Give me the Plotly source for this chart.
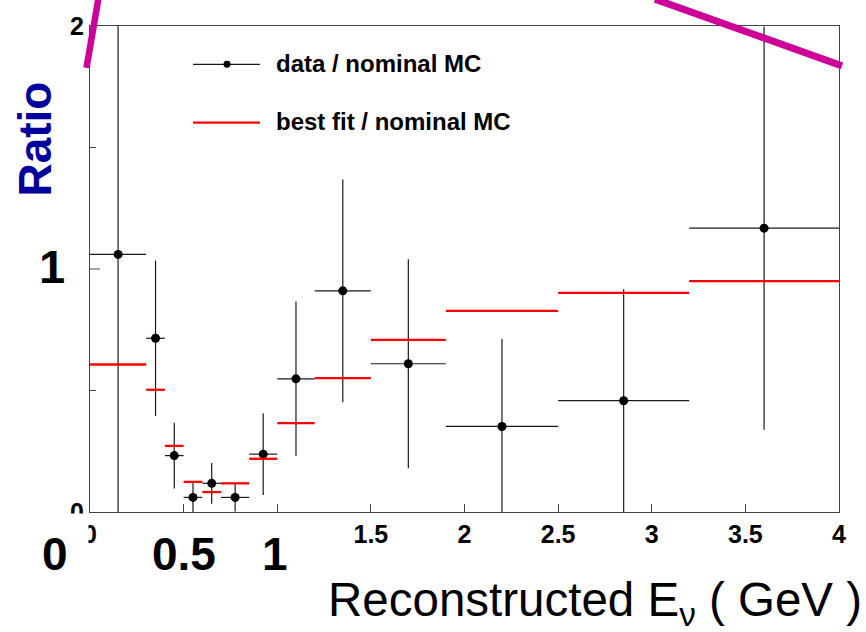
import plotly.graph_objects as go

# Reconstructed neutrino energy binning (GeV)
bin_edges = [0.0, 0.3, 0.4, 0.5, 0.6, 0.7, 0.85, 1.0, 1.2, 1.5, 1.9, 2.5, 3.2, 4.0]

# data / nominal MC ratio and its uncertainty, one entry per bin
data_ratio = [1.06, 0.715, 0.232, 0.060, 0.118, 0.060, 0.238, 0.548, 0.910, 0.610, 0.352, 0.458, 1.168]
data_err = [1.06, 0.32, 0.135, 0.062, 0.084, 0.058, 0.168, 0.318, 0.458, 0.43, 0.36, 0.459, 0.83]

# best fit / nominal MC ratio, one entry per bin
fit_ratio = [0.607, 0.503, 0.272, 0.124, 0.082, 0.118, 0.219, 0.366, 0.551, 0.708, 0.828, 0.902, 0.950]

# labelled ticks and unlabelled ticks on each axis
x_tickvals = [0, 1.5, 2, 2.5, 3, 3.5, 4]
x_ticktext = ["0", "1.5", "2", "2.5", "3", "3.5", "4"]
x_plain_ticks = [0.5, 1]
y_tickvals = [0, 2]
y_ticktext = ["0", "2"]
y_minor_ticks = [0.5, 1.5]
y_plain_major = [1]

centers = [(lo + hi) / 2 for lo, hi in zip(bin_edges[:-1], bin_edges[1:])]
half_widths = [(hi - lo) / 2 for lo, hi in zip(bin_edges[:-1], bin_edges[1:])]

# step segments for the best-fit ratio
fit_x, fit_y = [], []
for lo, hi, v in zip(bin_edges[:-1], bin_edges[1:], fit_ratio):
    fit_x += [lo, hi, None]
    fit_y += [v, v, None]

W, H = 866, 632
L, R, T, B = 90, 839, 24, 512


def px(xp):
    return (xp - L) / (R - L)


def py(yp):
    return (B - yp) / (B - T)


FONT = "Liberation Sans, Arial, sans-serif"
INK = "#1a1a1a"
AXIS = "#444"

fig = go.Figure()

fig.add_trace(go.Scatter(
    x=centers, y=data_ratio, mode="markers",
    marker=dict(color="black", size=9),
    error_x=dict(type="data", array=half_widths, width=0, thickness=1.2, color=INK),
    error_y=dict(type="data", array=data_err, width=0, thickness=1.2, color=INK),
    name="data / nominal MC",
))

fig.add_trace(go.Scatter(
    x=fit_x, y=fit_y, mode="lines",
    line=dict(color="#ff0000", width=2.3),
    name="best fit / nominal MC",
))

shapes = []
annotations = []

# unlabelled major tick on the y axis
for v in y_plain_major:
    shapes.append(dict(type="line", xref="paper", yref="y",
                       x0=0, x1=px(L + 10), y0=v, y1=v,
                       line=dict(color=AXIS, width=1)))

# white patch over the lower-left corner labels
shapes.append(dict(type="rect", xref="paper", yref="paper",
                   x0=px(20), x1=px(88.5), y0=py(513.5), y1=py(585),
                   fillcolor="white", line=dict(width=0), layer="above"))

# legend: data entry
shapes.append(dict(type="line", xref="paper", yref="paper",
                   x0=px(193), x1=px(260), y0=py(62.5), y1=py(62.5),
                   line=dict(color=INK, width=1.2), layer="above"))
shapes.append(dict(type="circle", xref="paper", yref="paper",
                   x0=px(223.5), x1=px(230.5), y0=py(66), y1=py(59),
                   fillcolor="black", line=dict(color="black", width=0), layer="above"))
# legend: best-fit entry
shapes.append(dict(type="line", xref="paper", yref="paper",
                   x0=px(193), x1=px(260), y0=py(121), y1=py(121),
                   line=dict(color="#ff0000", width=2.3), layer="above"))

# magenta strokes across the top
MAG = "#cc0099"
shapes.append(dict(type="line", xref="paper", yref="paper",
                   x0=px(86.5), x1=px(98.5), y0=py(66), y1=py(-4),
                   line=dict(color=MAG, width=6.5), layer="above"))
shapes.append(dict(type="line", xref="paper", yref="paper",
                   x0=px(655), x1=px(842), y0=py(-3), y1=py(64),
                   line=dict(color=MAG, width=7), layer="above"))

annotations += [
    dict(text="data / nominal MC", x=px(274), y=py(62), xanchor="left", yanchor="middle",
         font=dict(family=FONT, size=24, color="black", weight="bold")),
    dict(text="best fit / nominal MC", x=px(274), y=py(120), xanchor="left", yanchor="middle",
         font=dict(family=FONT, size=24, color="black", weight="bold")),
    dict(text="Ratio", x=px(35), y=py(137), textangle=-90, xanchor="center", yanchor="middle",
         font=dict(family=FONT, size=46, color="#00009c", weight="bold")),
    dict(text="1", x=px(52), y=py(265), xanchor="center", yanchor="middle",
         font=dict(family=FONT, size=47, color="black", weight="bold")),
    dict(text="0", x=px(55), y=py(554), xanchor="center", yanchor="middle",
         font=dict(family=FONT, size=46, color="black", weight="bold")),
    dict(text="0.5", x=px(184), y=py(554), xanchor="center", yanchor="middle",
         font=dict(family=FONT, size=46, color="black", weight="bold")),
    dict(text="1", x=px(275), y=py(554), xanchor="center", yanchor="middle",
         font=dict(family=FONT, size=46, color="black", weight="bold")),
    dict(text="Reconstructed E<sub>ν</sub> ( GeV )", x=px(864), y=py(603),
         xanchor="right", yanchor="middle",
         font=dict(family=FONT, size=47.5, color="black")),
]
for a in annotations:
    a.update(xref="paper", yref="paper", showarrow=False)

fig.update_layout(
    width=W, height=H,
    margin=dict(l=L, r=W - R, t=T, b=H - B, pad=0),
    paper_bgcolor="white", plot_bgcolor="white",
    showlegend=False,
    shapes=shapes, annotations=annotations,
)

fig.update_xaxes(
    range=[0, 4], tickvals=x_tickvals, ticktext=x_ticktext,
    ticks="inside", ticklen=8, tickwidth=1, tickcolor=AXIS,
    minor=dict(tickvals=x_plain_ticks, ticks="inside", ticklen=8, tickwidth=1, tickcolor=AXIS),
    showline=True, linecolor=AXIS, linewidth=1.2, mirror=True,
    showgrid=False, zeroline=False,
    tickfont=dict(family=FONT, size=25, color="black", weight="bold"),
)
fig.update_yaxes(
    range=[0, 2], tickvals=y_tickvals, ticktext=y_ticktext,
    ticks="inside", ticklen=10, tickwidth=1, tickcolor=AXIS,
    minor=dict(tickvals=y_minor_ticks, ticks="inside", ticklen=6, tickwidth=1, tickcolor=AXIS),
    showline=True, linecolor=AXIS, linewidth=1.2, mirror=True,
    showgrid=False, zeroline=False,
    tickfont=dict(family=FONT, size=25, color="black", weight="bold"),
)

fig.write_html("out.html")
